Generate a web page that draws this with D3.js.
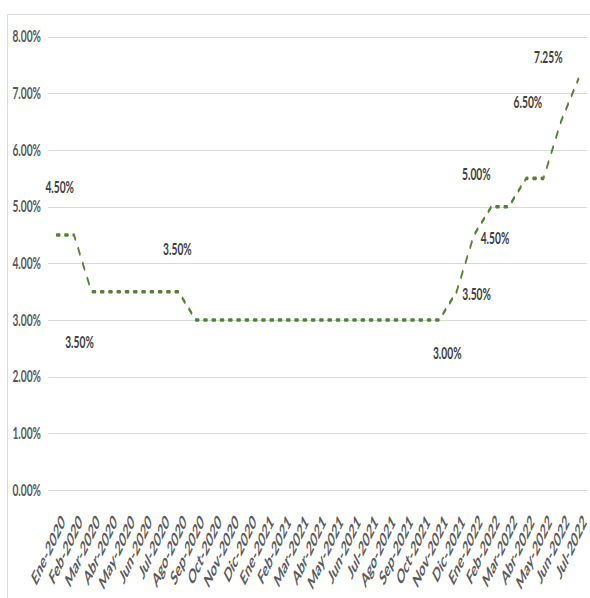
<!DOCTYPE html>
<html>
<head>
<meta charset="utf-8">
<script src="https://cdn.jsdelivr.net/npm/d3@7/dist/d3.min.js"></script>
<style>
html,body{margin:0;padding:0;background:#fff;}
svg{display:block;}
</style>
</head>
<body>
<svg id="chart" width="590" height="598"></svg>
<script>
const months = ["Ene-2020","Feb-2020","Mar-2020","Abr-2020","May-2020","Jun-2020","Jul-2020","Ago-2020","Sep-2020","Oct-2020","Nov-2020","Dic-2020",
  "Ene-2021","Feb-2021","Mar-2021","Abr-2021","May-2021","Jun-2021","Jul-2021","Ago-2021","Sep-2021","Oct-2021","Nov-2021","Dic-2021",
  "Ene-2022","Feb-2022","Mar-2022","Abr-2022","May-2022","Jun-2022","Jul-2022"];
const rates = [4.5,4.5,3.5,3.5,3.5,3.5,3.5,3.5,3.0,3.0,3.0,3.0,
  3.0,3.0,3.0,3.0,3.0,3.0,3.0,3.0,3.0,3.0,3.0,3.5,
  4.5,5.0,5.0,5.5,5.5,6.5,7.25];
const yTicks = [0,1,2,3,4,5,6,7,8];
const labeledIdx = [0,2,7,22,23,24,25,29,30];
// manual label placement offsets (layout)
const labelOffsets = [[3,-48],[-12,51],[-1,-42],[8,33],[20,3],[21,3],[-15,-32],[-33,-19],[-30,-22]];

const svg = d3.select("#chart");
const W = 590, H = 598;
const plot = {left:48, right:587, top:36.7, bottom:490};

const x = d3.scalePoint().domain(months).range([plot.left, plot.right]).padding(0.5);
const y = d3.scaleLinear().domain([0,8]).range([plot.bottom, plot.top]);
const fmt = v => d3.format(".2f")(v) + "%";

// chart border
svg.append("path").attr("d", `M7.5,${H} V14.5 H${W}`).attr("fill","none").attr("stroke","#d9d9d9").attr("stroke-width",1);

// gridlines
svg.append("g").selectAll("line").data(yTicks).join("line")
  .attr("x1", plot.left).attr("x2", plot.right)
  .attr("y1", d => Math.round(y(d))+0.5).attr("y2", d => Math.round(y(d))+0.5)
  .attr("stroke","#d9d9d9").attr("stroke-width",1);

// y tick labels
const ta = 0.62;
svg.append("g").selectAll("text").data(yTicks).join("text")
  .attr("transform", d => `translate(41,${y(d)+5.5}) scale(${ta},1)`)
  .attr("text-anchor","end")
  .attr("font-family","Lato, sans-serif").attr("font-weight","bold").attr("font-size",16.5)
  .attr("fill","#595959")
  .text(d => fmt(d));

// x labels
const xa = 0.5, xr = 47;
svg.append("g").selectAll("text").data(months).join("text")
  .attr("transform", d => `translate(${x(d)+3},${512}) scale(${xa},1) rotate(-${xr})`)
  .attr("text-anchor","end")
  .attr("dominant-baseline","hanging")
  .attr("font-family","Lato, sans-serif").attr("font-weight","bold").attr("font-size",20)
  .attr("fill","#595959")
  .text(d => d);

// line (drawn in stretched space, then squashed horizontally)
const k = 0.46;
const line = d3.line().x((d,i) => x(months[i]) / k).y(d => y(d));
svg.append("g").attr("transform", `scale(${k},1)`)
  .append("path").datum(rates)
  .attr("d", line)
  .attr("fill","none").attr("stroke","#548235").attr("stroke-width",3.6)
  .attr("stroke-linecap","round").attr("stroke-linejoin","round")
  .attr("stroke-dasharray","6.5 11.5");

// data labels
svg.append("g").selectAll("text").data(labeledIdx).join("text")
  .attr("transform", (d,j) => `translate(${x(months[d]) + labelOffsets[j][0]},${y(rates[d]) + labelOffsets[j][1] + 5.5}) scale(${ta},1)`)
  .attr("text-anchor","middle")
  .attr("font-family","Lato, sans-serif").attr("font-weight","bold").attr("font-size",16.5)
  .attr("fill","#404040")
  .text(d => fmt(rates[d]));
</script>
</body>
</html>
